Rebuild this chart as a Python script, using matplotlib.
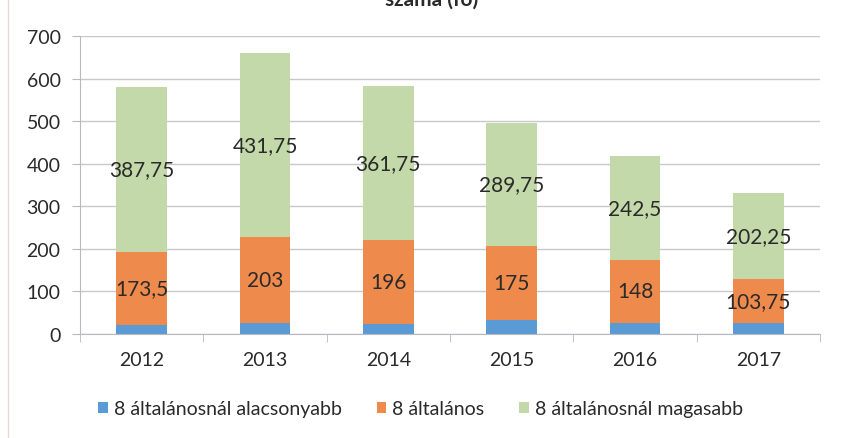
import matplotlib.pyplot as plt
import numpy as np
from matplotlib.lines import Line2D

plt.rcParams['font.family'] = ['Lato', 'DejaVu Sans']

# data
years = ['2012', '2013', '2014', '2015', '2016', '2017']
alacsonyabb = [20, 25, 24, 32, 27, 26]
altalanos = [173.5, 203, 196, 175, 148, 103.75]
magasabb = [387.75, 431.75, 361.75, 289.75, 242.5, 202.25]
labels_alt = ['173,5', '203', '196', '175', '148', '103,75']
labels_mag = ['387,75', '431,75', '361,75', '289,75', '242,5', '202,25']
series_names = ['8 általánosnál alacsonyabb', '8 általános', '8 általánosnál magasabb']

c_blue = '#5b9bd5'
c_orange = '#ee8a4c'
c_green = '#c3d9a9'

fig = plt.figure(figsize=(8.41, 4.39), dpi=100)
ax = fig.add_axes([80 / 841, 1 - 335 / 439, 740 / 841, 298 / 439])

x = np.arange(len(years))
w = 0.41
low = np.array(alacsonyabb)
mid = np.array(altalanos)
high = np.array(magasabb)

ax.bar(x, low, w, color=c_blue, label=series_names[0], zorder=2)
ax.bar(x, mid, w, bottom=low, color=c_orange, label=series_names[1], zorder=2)
ax.bar(x, high, w, bottom=low + mid, color=c_green, label=series_names[2], zorder=2)

for i in range(len(years)):
    ax.text(x[i], low[i] + mid[i] / 2, labels_alt[i], ha='center', va='center',
            fontsize=15, color='#2a2a2a', zorder=3)
    ax.text(x[i], low[i] + mid[i] + high[i] / 2, labels_mag[i], ha='center', va='center',
            fontsize=15, color='#2a2a2a', zorder=3)

ax.set_xlim(-0.5, len(years) - 0.5)
ax.set_ylim(0, 700)
ax.set_yticks(range(0, 701, 100))
ax.yaxis.grid(True, color='#c8c8cc', linewidth=1, zorder=0)
ax.set_xticks(x)
ax.set_xticklabels(years)
ax.set_xticks(np.arange(-0.5, len(years), 1), minor=True)
ax.tick_params(axis='x', which='major', length=0, pad=12, labelsize=14, labelcolor='#2a2a2a')
ax.tick_params(axis='x', which='minor', length=6, color='#b8b8c0', direction='out')
ax.tick_params(axis='y', length=6, color='#b8b8c0', pad=8, labelsize=14, labelcolor='#2a2a2a')

for s in ['top', 'right']:
    ax.spines[s].set_visible(False)
ax.spines['left'].set_color('#b8b8c0')
ax.spines['bottom'].set_color('#b8b8c0')

leg = fig.legend(loc='center', bbox_to_anchor=(0.5, 1 - 410 / 439), ncol=3, frameon=False,
                 fontsize=14, handlelength=0.5, handleheight=0.5, handletextpad=0.3,
                 columnspacing=1.8)
for t in leg.get_texts():
    t.set_color('#2a2a2a')

# title, cut off at the top of the scan
fig.text(0.513, 1 - 6 / 439, 'száma (fő)', ha='center', va='baseline',
         fontsize=15, fontweight='bold', color='#2a2a2a')

# faint chart border on the left
fig.add_artist(Line2D([8 / 841, 8 / 841], [0, 1], color='#e6d8d8', linewidth=1))

fig.savefig('out.png', dpi=100)
